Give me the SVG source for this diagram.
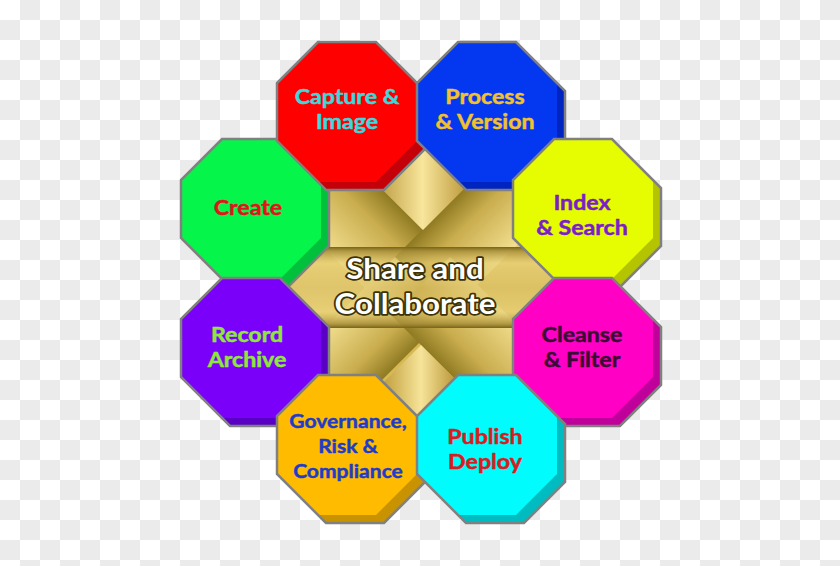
<svg xmlns="http://www.w3.org/2000/svg" xmlns:xlink="http://www.w3.org/1999/xlink" width="840" height="566" viewBox="0 0 840 566">
<defs>
<style>
.ol{fill:none;stroke:#808080;stroke-width:2.5;stroke-linejoin:miter}
.lbl{font-family:Lato,"Open Sans",sans-serif;font-weight:700;font-size:20.5px;text-anchor:middle;stroke-width:0.45px;stroke-linejoin:round}
.sm{font-size:19.5px}
.ctr{font-family:Lato,"Open Sans",sans-serif;font-weight:700;font-size:29px;fill:#fff;stroke:#3c3208;stroke-width:3.5px;paint-order:stroke;stroke-linejoin:round;text-anchor:middle}
</style>
<pattern id="chk" width="40" height="40" patternUnits="userSpaceOnUse">
<rect width="40" height="40" fill="#ffffff"/>
<rect x="20" y="0" width="20" height="20" fill="#ebebeb"/>
<rect x="0" y="20" width="20" height="20" fill="#ebebeb"/>
</pattern>
<polygon id="oct-out" points="41,0 99,0 148,49 148,107 107,148 49,148 0,99 0,41"/>
<polygon id="oct-face" points="41,0 99,0 140,41 140,99 99,140 41,140 0,99 0,41"/>
<clipPath id="starClip">
<polygon points="421,140 467,186 518,186 518,237 562,283 518,327 518,380 465,380 421,425 377,380 326,380 326,329 280,283 326,237 326,186 377,186"/>
</clipPath>
<linearGradient id="gTop" gradientUnits="userSpaceOnUse" x1="375" y1="0" x2="470" y2="0">
<stop offset="0" stop-color="#b8963a"/><stop offset="0.5" stop-color="#f8e69c"/><stop offset="1" stop-color="#b89434"/>
</linearGradient>
<linearGradient id="gBot" gradientUnits="userSpaceOnUse" x1="385" y1="0" x2="457" y2="0">
<stop offset="0" stop-color="#c4a240"/><stop offset="0.5" stop-color="#f6e49a"/><stop offset="1" stop-color="#b89434"/>
</linearGradient>
<linearGradient id="gUL" gradientUnits="userSpaceOnUse" x1="380" y1="187" x2="321.5" y2="245.5">
<stop offset="0" stop-color="#8f7a22"/><stop offset="0.35" stop-color="#c9ad4e"/><stop offset="1" stop-color="#f3df90"/>
</linearGradient>
<linearGradient id="gUR" gradientUnits="userSpaceOnUse" x1="470" y1="183" x2="524.5" y2="237.5">
<stop offset="0" stop-color="#8f7a22"/><stop offset="0.35" stop-color="#c9ad4e"/><stop offset="1" stop-color="#f3df90"/>
</linearGradient>
<linearGradient id="gLL" gradientUnits="userSpaceOnUse" x1="380" y1="382" x2="325.5" y2="327.5">
<stop offset="0" stop-color="#8f7a22"/><stop offset="0.35" stop-color="#c9ad4e"/><stop offset="1" stop-color="#f3df90"/>
</linearGradient>
<linearGradient id="gLR" gradientUnits="userSpaceOnUse" x1="470" y1="394" x2="528.5" y2="335.5">
<stop offset="0" stop-color="#8f7a22"/><stop offset="0.35" stop-color="#c9ad4e"/><stop offset="1" stop-color="#f3df90"/>
</linearGradient>
<linearGradient id="gBand" gradientUnits="userSpaceOnUse" x1="0" y1="247" x2="0" y2="328">
<stop offset="0" stop-color="#76641a" stop-opacity="1"/>
<stop offset="0.05" stop-color="#a58c36" stop-opacity="0.85"/>
<stop offset="0.2" stop-color="#e6cd72" stop-opacity="0.5"/>
<stop offset="0.5" stop-color="#cdae50" stop-opacity="0.4"/>
<stop offset="0.8" stop-color="#e6cd72" stop-opacity="0.5"/>
<stop offset="0.95" stop-color="#a58c36" stop-opacity="0.85"/>
<stop offset="1" stop-color="#76641a" stop-opacity="1"/>
</linearGradient>
</defs>

<rect width="840" height="566" fill="url(#chk)"/>

<g id="center" clip-path="url(#starClip)">
<rect x="270" y="130" width="300" height="300" fill="#d6b955"/>
<polygon points="364,288 250,174 250,402" fill="#ead37c"/>
<polygon points="477,284 600,161 600,407" fill="#e6cd72"/>
<polygon points="321,128 450,257 391,315 263,187" fill="url(#gUL)"/>
<polygon points="506,146 395,257 450,312 561,201" fill="url(#gUR)"/>
<polygon points="395,257 286,366 341,421 450,312" fill="url(#gLL)"/>
<polygon points="450,257 571,378 513,437 391,315" fill="url(#gLR)"/>
<polygon points="423,230 523,130 323,130" fill="url(#gTop)"/>
<polygon points="421,345 516,440 326,440" fill="url(#gBot)"/>
<rect x="270" y="247" width="305" height="81" fill="url(#gBand)"/>
</g>

<g id="connectors"></g>

<g id="node-create">
<use href="#oct-out" x="181" y="139" fill="#00c03c"/>
<use href="#oct-face" x="181" y="139" fill="#05f54a"/>
<use href="#oct-out" x="181" y="139" class="ol"/>
<text class="lbl" transform="translate(248 0) scale(1.13 1)" fill="#e0141c" stroke="#e0141c"><tspan x="0" y="215">Create</tspan></text>
</g>

<g id="node-capture">
<use href="#oct-out" x="277" y="42" fill="#c40008"/>
<use href="#oct-face" x="277" y="42" fill="#ff0000"/>
<use href="#oct-out" x="277" y="42" class="ol"/>
<text class="lbl" transform="translate(347 0) scale(1.13 1)" fill="#3cd8dc" stroke="#3cd8dc"><tspan x="0" y="104">Capture &amp;</tspan><tspan x="0" y="129">Image</tspan></text>
</g>

<g id="node-process">
<use href="#oct-out" x="417" y="42" fill="#0024c0"/>
<use href="#oct-face" x="417" y="42" fill="#0438f0"/>
<use href="#oct-out" x="417" y="42" class="ol"/>
<text class="lbl" transform="translate(485 0) scale(1.13 1)" fill="#f2c12e" stroke="#f2c12e"><tspan x="0" y="104">Process</tspan><tspan x="0" y="129">&amp; Version</tspan></text>
</g>

<g id="node-index">
<use href="#oct-out" x="513" y="139" fill="#b4c400"/>
<use href="#oct-face" x="513" y="139" fill="#e6fc00"/>
<use href="#oct-out" x="513" y="139" class="ol"/>
<text class="lbl" transform="translate(582 0) scale(1.13 1)" fill="#7a1ec8" stroke="#7a1ec8"><tspan x="0" y="210">Index</tspan><tspan x="0" y="235">&amp; Search</tspan></text>
</g>

<g id="node-record">
<use href="#oct-out" x="181" y="278" fill="#5a00c4"/>
<use href="#oct-face" x="181" y="278" fill="#7a00fa"/>
<use href="#oct-out" x="181" y="278" class="ol"/>
<text class="lbl" transform="translate(247 0) scale(1.13 1)" fill="#8ee83a" stroke="#8ee83a"><tspan x="0" y="342">Record</tspan><tspan x="0" y="367">Archive</tspan></text>
</g>

<g id="node-cleanse">
<use href="#oct-out" x="513" y="278" fill="#c0009a"/>
<use href="#oct-face" x="513" y="278" fill="#ff00c4"/>
<use href="#oct-out" x="513" y="278" class="ol"/>
<text class="lbl" transform="translate(582 0) scale(1.13 1)" fill="#3a0c34" stroke="#3a0c34"><tspan x="0" y="342">Cleanse</tspan><tspan x="0" y="367">&amp; Filter</tspan></text>
</g>

<g id="node-governance">
<use href="#oct-out" x="277" y="375" fill="#c89200"/>
<use href="#oct-face" x="277" y="375" fill="#ffbb00"/>
<use href="#oct-out" x="277" y="375" class="ol"/>
<text class="lbl sm" transform="translate(348 0) scale(1.08 1)" fill="#1e3cc8" stroke="#1e3cc8"><tspan x="0" y="428">Governance,</tspan><tspan x="0" y="453">Risk &amp;</tspan><tspan x="0" y="478">Compliance</tspan></text>
</g>

<g id="node-publish">
<use href="#oct-out" x="417" y="375" fill="#00bcc0"/>
<use href="#oct-face" x="417" y="375" fill="#00fcfc"/>
<use href="#oct-out" x="417" y="375" class="ol"/>
<text class="lbl" transform="translate(485 0) scale(1.13 1)" fill="#d81c20" stroke="#d81c20"><tspan x="0" y="444">Publish</tspan><tspan x="0" y="469">Deploy</tspan></text>
</g>

<g id="center-label">
<text class="ctr" transform="translate(415 0) scale(1.08 1)"><tspan x="0" y="279">Share and</tspan><tspan x="0" y="314">Collaborate</tspan></text>
</g>
</svg>
